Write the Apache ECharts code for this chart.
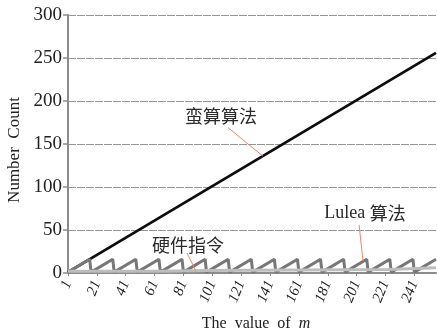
<!DOCTYPE html>
<html>
<head>
<meta charset="utf-8">
<script src="https://cdn.jsdelivr.net/npm/echarts@6/dist/echarts.min.js"></script>
<style>
  html, body { margin: 0; padding: 0; background: #fff; }
  #chart { width: 437px; height: 332px; }
</style>
</head>
<body>
<div id="chart"></div>
<script>
// Brute-force count: grows one-for-one with m (polyline vertices)
const bruteM = [1, 256];
const bruteCount = [1, 256];

// Lulea count: sawtooth with period 16 (vertices at each rise and drop)
const luleaM = [1, 16, 17, 32, 33, 48, 49, 64, 65, 80, 81, 96, 97, 112, 113, 128,
                129, 144, 145, 160, 161, 176, 177, 192, 193, 208, 209, 224, 225, 240, 241, 256];
const luleaCount = [1, 16, 1, 16, 1, 16, 1, 16, 1, 16, 1, 16, 1, 16, 1, 16,
                    1, 16, 1, 16, 1, 16, 1, 16, 1, 16, 1, 16, 1, 16, 1, 16];

// Hardware-instruction count: small step function
const hwM = [1, 65, 97, 223, 256];
const hwCount = [2, 3, 4, 6, 6];

// Axis ranges and ticks
const xMin = 1, xMax = 256, xStep = 20;
const yMin = 0, yMax = 300, yStep = 50;

const zip = (xs, ys) => xs.map((x, i) => [x, ys[i]]);

const serif = '"Liberation Serif", "DejaVu Serif", serif';
const cjk = '"Noto Sans CJK SC", sans-serif';
const pointerColor = '#f0846e';

function note(coord, text) {
  return {
    coord: coord,
    symbol: 'circle',
    symbolSize: 0,
    label: {
      show: true,
      position: 'inside',
      formatter: text,
      color: '#2a2a2a',
      fontSize: 18,
      fontFamily: cjk,
      rich: {
        en: { fontFamily: serif, fontSize: 18, color: '#2a2a2a' },
        zh: { fontFamily: cjk, fontSize: 18, color: '#2a2a2a' }
      }
    }
  };
}

function pointer(from, to) {
  return [{ coord: from }, { coord: to }];
}

const chart = echarts.init(document.getElementById('chart'), null, { renderer: 'canvas' });

chart.setOption({
  animation: false,
  backgroundColor: '#ffffff',
  grid: { left: 68, right: 1, top: 15, bottom: 59, containLabel: false, outerBoundsMode: 'none' },
  xAxis: {
    type: 'value',
    min: xMin,
    max: xMax,
    interval: xStep,
    name: '{a|The  value  of  }{m|m}',
    nameLocation: 'middle',
    nameGap: 43,
    nameTextStyle: {
      padding: [0, 0, 0, 8],
      rich: {
        a: { fontFamily: serif, fontSize: 16, color: '#222' },
        m: { fontFamily: serif, fontSize: 16, fontStyle: 'italic', color: '#222' }
      }
    },
    axisLine: { show: true, onZero: false, lineStyle: { color: '#8c8c8c', width: 2 } },
    axisTick: { show: true, length: 3, lineStyle: { color: '#8c8c8c', width: 1 } },
    axisLabel: {
      rotate: 68,
      fontFamily: serif,
      fontStyle: 'italic',
      fontSize: 15,
      color: '#222',
      margin: 8,
      showMaxLabel: false
    },
    splitLine: { show: false }
  },
  yAxis: {
    type: 'value',
    min: yMin,
    max: yMax,
    interval: yStep,
    name: 'Number  Count',
    nameLocation: 'middle',
    nameGap: 45,
    nameTextStyle: { fontFamily: serif, fontSize: 17, color: '#222', padding: [0, 12, 0, 0] },
    axisLine: { show: true, lineStyle: { color: '#8c8c8c', width: 2 } },
    axisTick: { show: true, inside: false, length: 5, lineStyle: { color: '#8c8c8c', width: 1.5 } },
    axisLabel: { fontFamily: serif, fontSize: 19, color: '#222', margin: 6 },
    splitLine: { show: true, lineStyle: { color: '#959595', width: 1.2, type: [8, 1] } }
  },
  series: [
    {
      name: '蛮算算法',
      type: 'line',
      data: zip(bruteM, bruteCount),
      showSymbol: false,
      z: 2,
      lineStyle: { color: '#0d0d0d', width: 2.8 },
      markLine: {
        silent: true,
        symbol: 'none',
        label: { show: false },
        lineStyle: { color: pointerColor, width: 1, type: 'solid' },
        data: [pointer([111.9, 169], [136, 136])]
      },
      markPoint: { silent: true, data: [note([107, 182], '蛮算算法')] }
    },
    {
      name: 'Lulea 算法',
      type: 'line',
      data: zip(luleaM, luleaCount),
      showSymbol: false,
      z: 3,
      lineStyle: { color: '#777777', width: 3 },
      markLine: {
        silent: true,
        symbol: 'none',
        label: { show: false },
        lineStyle: { color: pointerColor, width: 1, type: 'solid' },
        data: [pointer([202.7, 56], [205.4, 14])]
      },
      markPoint: { silent: true, data: [note([206.8, 70], '{en|Lulea }{zh|算法}')] }
    },
    {
      name: '硬件指令',
      type: 'line',
      step: 'end',
      data: zip(hwM, hwCount),
      showSymbol: false,
      z: 4,
      lineStyle: { color: '#bdbdbd', width: 3 },
      markLine: {
        silent: true,
        symbol: 'none',
        label: { show: false },
        lineStyle: { color: pointerColor, width: 1, type: 'solid' },
        data: [pointer([83.5, 23.3], [89.7, 2])]
      },
      markPoint: { silent: true, data: [note([84.2, 32.6], '硬件指令')] }
    }
  ]
});
</script>
</body>
</html>
